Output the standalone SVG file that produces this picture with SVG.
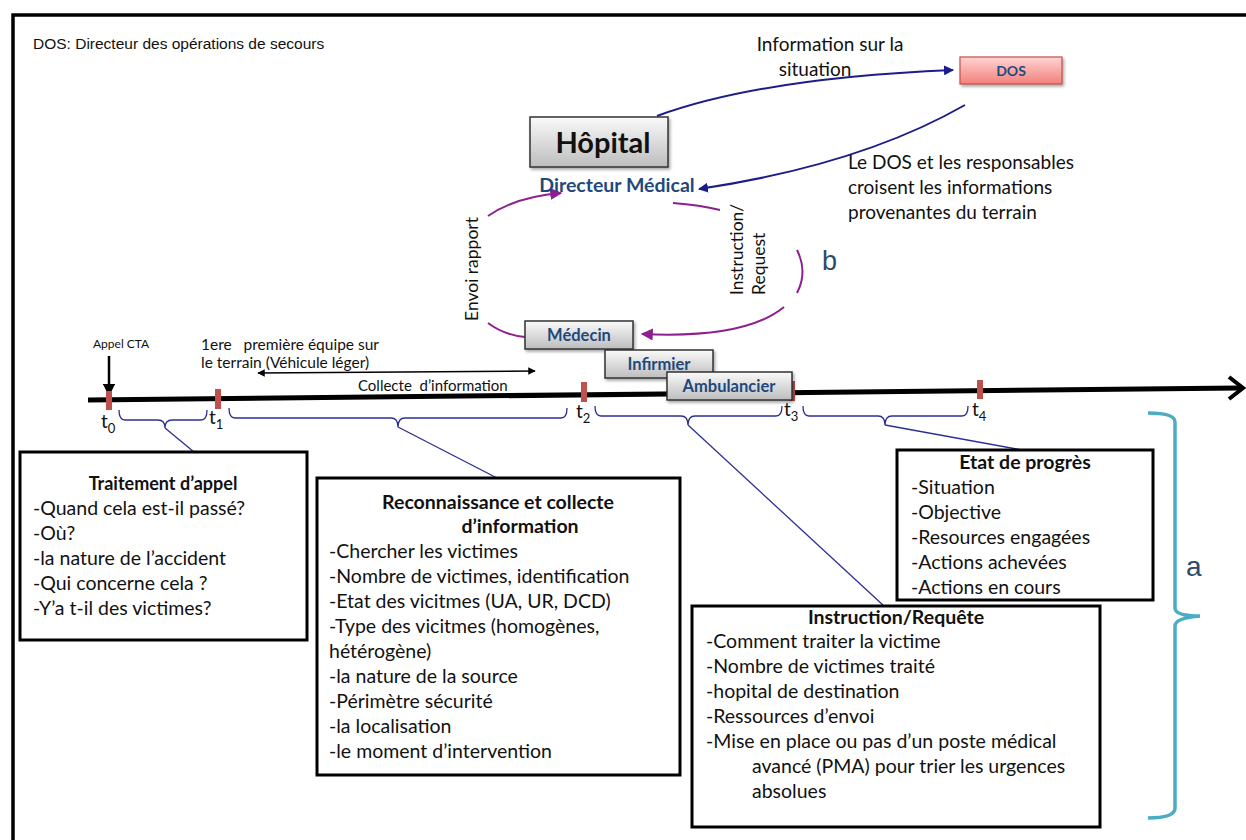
<svg xmlns="http://www.w3.org/2000/svg" width="1246" height="840" viewBox="0 0 1246 840">
<defs>
<linearGradient id="gGray" x1="0" y1="0" x2="0" y2="1">
<stop offset="0" stop-color="#fafafa"/><stop offset="1" stop-color="#bdbdbd"/>
</linearGradient>
<linearGradient id="gPink" x1="0" y1="0" x2="0" y2="1">
<stop offset="0" stop-color="#ffd4d2"/><stop offset="1" stop-color="#f2807c"/>
</linearGradient>
<filter id="sh" x="-10%" y="-10%" width="130%" height="140%">
<feDropShadow dx="1.5" dy="2" stdDeviation="1.5" flood-color="#000" flood-opacity="0.35"/>
</filter>
<marker id="mNavy" viewBox="0 0 10 10" refX="9" refY="5" markerWidth="5" markerHeight="5" orient="auto">
<path d="M0,0 L10,5 L0,10 z" fill="#1c1c8a"/>
</marker>
<marker id="mPurple" viewBox="0 0 10 10" refX="9" refY="5" markerWidth="6" markerHeight="6" orient="auto">
<path d="M0,0 L10,5 L0,10 z" fill="#8e1f8e"/>
</marker>
<marker id="mBlack" viewBox="0 0 10 10" refX="9" refY="5" markerWidth="5" markerHeight="5" orient="auto-start-reverse">
<path d="M0,0 L10,5 L0,10 z" fill="#000"/>
</marker>
</defs>
<style>
.c{font-family:Lato,"Liberation Sans",sans-serif;fill:#111}
.a{font-family:"Liberation Sans",Arial,sans-serif;fill:#111}
.b{font-weight:bold}
.pre{white-space:pre}
.box{fill:#fff;stroke:#000;stroke-width:3}
.gbox{fill:url(#gGray);stroke:#333;stroke-width:1.5}
.lbl{font-family:Lato,"Liberation Sans",sans-serif;font-weight:bold;fill:#1f497d;font-size:16.5px;text-anchor:middle}
.navy{fill:none;stroke:#1c1c8a;stroke-width:2}
.pur{fill:none;stroke:#8e1f8e;stroke-width:2}
.br{fill:none;stroke:#2b2f94;stroke-width:1.3}
.tick{fill:#c0504d}
.li{font-size:19.5px}
.ti{font-size:19.5px;font-weight:bold;text-anchor:middle}
</style>
<rect x="13" y="15" width="1240" height="840" fill="none" stroke="#000" stroke-width="3.5"/>
<text class="a" x="33" y="49" font-size="15.5">DOS: Directeur des opérations de secours</text>

<g id="connectors">
<path class="navy" d="M657,116 Q760,78 953,70" marker-end="url(#mNavy)"/>
<path class="navy" d="M965,105 Q860,165 699,189" marker-end="url(#mNavy)"/>
<path class="pur" d="M488,216 Q515,197 561,193" marker-end="url(#mPurple)"/>
<path class="pur" d="M488,323 Q504,335 525,337"/>
<path class="pur" d="M673,203 Q700,205 720,210"/>
<path class="pur" d="M797,250 Q808,272 797,293"/>
<path class="pur" d="M784,307 Q745,339 642,334" marker-end="url(#mPurple)"/>
<line x1="109" y1="356" x2="109" y2="395" stroke="#000" stroke-width="2.5" marker-end="url(#mBlack)"/>
<line x1="258" y1="373" x2="535" y2="371" stroke="#000" stroke-width="1.5" marker-start="url(#mBlack)" marker-end="url(#mBlack)"/>
<path class="br" d="M119,410 Q119,420 125,420 L158,420 Q165,420 165,428 Q165,420 172,420 L201,420 Q207,420 207,410"/>
<path class="br" d="M229,408 Q229,418 235,418 L391,418 Q398,418 398,427 Q398,418 405,418 L561,418 Q567,418 567,408"/>
<path class="br" d="M595,406 Q595,416 601,416 L681,416 Q688,416 688,425 Q688,416 695,416 L776,416 Q782,416 782,406"/>
<path class="br" d="M803,406 Q803,416 809,416 L878,416 Q885,416 885,425 Q885,416 892,416 L962,416 Q968,416 968,406"/>
<line class="br" x1="165" y1="428" x2="194" y2="452"/>
<line class="br" x1="398" y1="427" x2="497" y2="478"/>
<line class="br" x1="688" y1="425" x2="884" y2="606"/>
<line class="br" x1="885" y1="425" x2="1022" y2="450"/>
</g>

<g id="timeline">
<path d="M88,400 L1240,388" stroke="#000" stroke-width="5" fill="none"/>
<path d="M1229,377 L1243,388 L1229,399" stroke="#000" stroke-width="4" fill="none"/>
<rect class="tick" x="106" y="391" width="6" height="19"/>
<rect class="tick" x="215" y="389" width="6" height="20"/>
<rect class="tick" x="581" y="382" width="6" height="20"/>
<rect class="tick" x="789" y="381" width="6" height="20"/>
<rect class="tick" x="977" y="380" width="6" height="19"/>
<text class="c" x="101" y="428" font-size="19">t<tspan font-size="13" dy="5">0</tspan></text>
<text class="c" x="209" y="424" font-size="19">t<tspan font-size="13" dy="5">1</tspan></text>
<text class="c" x="576" y="418" font-size="19">t<tspan font-size="13" dy="5">2</tspan></text>
<text class="c" x="784" y="416" font-size="19">t<tspan font-size="13" dy="5">3</tspan></text>
<text class="c" x="972" y="416" font-size="19">t<tspan font-size="13" dy="5">4</tspan></text>
<text class="c" x="93" y="348" font-size="12">Appel CTA</text>
<text class="c pre" x="201" y="350" font-size="15.5">1ere   première équipe sur</text>
<text class="c" x="201" y="368" font-size="15.5">le terrain (Véhicule léger)</text>
<text class="c pre" x="358" y="391" font-size="15">Collecte  d’information</text>
</g>

<g id="hopital">
<rect class="gbox" x="530" y="117" width="138" height="50" filter="url(#sh)"/>
<text class="c b" x="603" y="153" font-size="29" text-anchor="middle">Hôpital</text>
<text class="c b" x="617" y="192" font-size="19.5" text-anchor="middle" style="fill:#1f497d">Directeur Médical</text>
</g>

<g id="dos">
<rect x="960" y="57" width="102" height="27" fill="url(#gPink)" stroke="#c0504d" stroke-width="1.2" filter="url(#sh)"/>
<text class="lbl" x="1011" y="76" style="font-size:14px">DOS</text>
</g>

<g id="labels">
<text class="c" x="830" y="51" font-size="19" text-anchor="middle">Information sur la</text>
<text class="c" x="815" y="76" font-size="19" text-anchor="middle">situation</text>
<text class="c" x="848" y="169" font-size="19">Le DOS et les responsables</text>
<text class="c" x="848" y="194" font-size="19">croisent les informations</text>
<text class="c" x="848" y="219" font-size="19">provenantes du terrain</text>
<text class="c" transform="translate(478,269) rotate(-90)" font-size="17.5" text-anchor="middle">Envoi rapport</text>
<text class="c" transform="translate(743,295) rotate(-90)" font-size="17.5">Instruction/</text>
<text class="c" transform="translate(765,295) rotate(-90)" font-size="17.5">Request</text>
<text class="a" x="822" y="270" font-size="27" style="fill:#2f4a6e">b</text>
<text class="a" x="1186" y="576" font-size="28" style="fill:#2f4a6e">a</text>
</g>

<g id="medecin"><rect class="gbox" x="525" y="321" width="108" height="28" filter="url(#sh)"/><text class="lbl" x="579" y="341">Médecin</text></g>
<g id="infirmier"><rect class="gbox" x="605" y="350" width="108" height="28" filter="url(#sh)"/><text class="lbl" x="659" y="370">Infirmier</text></g>
<g id="ambulancier"><rect class="gbox" x="667" y="372" width="125" height="28" filter="url(#sh)"/><text class="lbl" x="729" y="392">Ambulancier</text></g>

<path d="M1148,413 Q1175,413 1175,422 L1175,608 Q1175,616 1200,616 Q1175,618 1175,626 L1175,808 Q1175,818 1148,818" fill="none" stroke="#4bacc6" stroke-width="3.5"/>

<g id="traitement">
<rect class="box" x="20" y="452" width="287" height="188"/>
<text class="c ti" x="163" y="490" style="font-size:18px">Traitement d’appel</text>
<text class="c li" x="33" y="515">-Quand cela est-il passé?</text>
<text class="c li" x="33" y="540">-Où?</text>
<text class="c li" x="33" y="565">-la nature de l’accident</text>
<text class="c li" x="33" y="590">-Qui concerne cela ?</text>
<text class="c li" x="33" y="615">-Y’a t-il des victimes?</text>
</g>

<g id="reconnaissance">
<rect class="box" x="317" y="478" width="363" height="297"/>
<text class="c ti" x="498" y="509">Reconnaissance et collecte</text>
<text class="c ti" x="520" y="533">d’information</text>
<text class="c li" x="329" y="558">-Chercher les victimes</text>
<text class="c li" x="329" y="583">-Nombre de victimes, identification</text>
<text class="c li" x="329" y="608">-Etat des vicitmes (UA, UR, DCD)</text>
<text class="c li" x="329" y="633">-Type des vicitmes (homogènes,</text>
<text class="c li" x="329" y="658">hétérogène)</text>
<text class="c li" x="329" y="683">-la nature de la source</text>
<text class="c li" x="329" y="708">-Périmètre sécurité</text>
<text class="c li" x="329" y="733">-la localisation</text>
<text class="c li" x="329" y="758">-le moment d’intervention</text>
</g>

<g id="etat">
<rect class="box" x="897" y="450" width="256" height="150"/>
<text class="c ti" x="1025" y="469">Etat de progrès</text>
<text class="c li" x="911" y="494">-Situation</text>
<text class="c li" x="911" y="519">-Objective</text>
<text class="c li" x="911" y="544">-Resources engagées</text>
<text class="c li" x="911" y="569">-Actions achevées</text>
<text class="c li" x="911" y="594">-Actions en cours</text>
</g>

<g id="instruction">
<rect class="box" x="692" y="606" width="408" height="221"/>
<text class="c ti" x="896" y="624">Instruction/Requête</text>
<text class="c li" x="706" y="648">-Comment traiter la victime</text>
<text class="c li" x="706" y="673">-Nombre de victimes traité</text>
<text class="c li" x="706" y="698">-hopital de destination</text>
<text class="c li" x="706" y="723">-Ressources d’envoi</text>
<text class="c li" x="706" y="748">-Mise en place ou pas d’un poste médical</text>
<text class="c li" x="752" y="773">avancé (PMA) pour trier les urgences</text>
<text class="c li" x="752" y="798">absolues</text>
</g>
</svg>
